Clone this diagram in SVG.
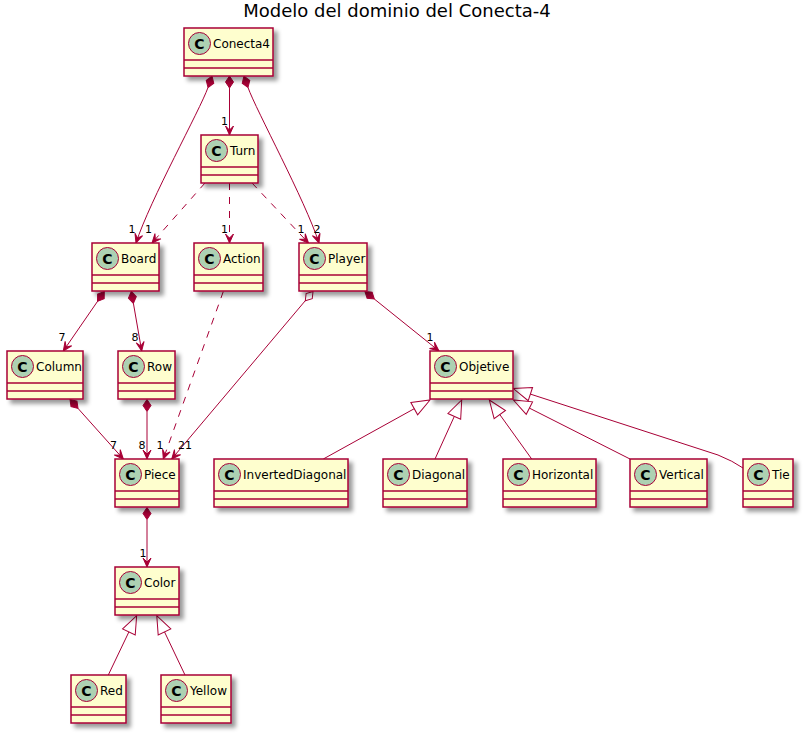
<svg xmlns="http://www.w3.org/2000/svg" width="806" height="736" viewBox="0 0 806 736">
<style>
.box{fill:#FEFECE;stroke:#A80036;stroke-width:1.5;filter:url(#sh)}
.sep{stroke:#A80036;stroke-width:1.5}
.ci{fill:#ADD1B2;stroke:#A80036;stroke-width:1}
.cl{font-family:"DejaVu Sans",sans-serif;font-size:14px;font-weight:bold;fill:#000;text-anchor:middle}
.nm{font-family:"DejaVu Sans",sans-serif;font-size:12px;fill:#000}
.lb{font-family:"DejaVu Sans",sans-serif;font-size:11px;fill:#000}
.e{fill:none;stroke:#A80036;stroke-width:1}
.d{stroke-dasharray:7,7}
.comp{marker-start:url(#dia);marker-end:url(#arr)}
.agg{marker-start:url(#odia);marker-end:url(#arr)}
.dep{marker-end:url(#arr)}
.gen{marker-end:url(#tri)}
</style>
<defs>
<filter id="sh" x="-20%" y="-20%" width="150%" height="150%">
<feGaussianBlur in="SourceAlpha" stdDeviation="2" result="b"/>
<feColorMatrix in="b" type="matrix" values="0 0 0 0 0  0 0 0 0 0  0 0 0 0 0  0 0 0 .4 0" result="b2"/>
<feOffset in="b2" dx="4" dy="4" result="b3"/>
<feBlend in="SourceGraphic" in2="b3" mode="normal"/>
</filter>
<marker id="arr" markerUnits="userSpaceOnUse" viewBox="-12 -6 14 12" refX="0" refY="0" markerWidth="14" markerHeight="12" orient="auto" overflow="visible">
<polygon points="0,0 -9,-4 -5,0 -9,4" fill="#A80036" stroke="#A80036" stroke-width="1"/>
</marker>
<marker id="dia" markerUnits="userSpaceOnUse" viewBox="-14 -6 16 12" refX="0" refY="0" markerWidth="16" markerHeight="12" orient="auto" overflow="visible">
<polygon points="0,0 -6,-4 -12,0 -6,4" fill="#A80036" stroke="#A80036" stroke-width="1"/>
</marker>
<marker id="odia" markerUnits="userSpaceOnUse" viewBox="-14 -6 16 12" refX="0" refY="0" markerWidth="16" markerHeight="12" orient="auto" overflow="visible">
<polygon points="0,0 -6,-4 -12,0 -6,4" fill="#FFFFFF" stroke="#A80036" stroke-width="1"/>
</marker>
<marker id="tri" markerUnits="userSpaceOnUse" viewBox="-2 -9 22 18" refX="0" refY="0" markerWidth="22" markerHeight="18" orient="auto" overflow="visible">
<polygon points="0,-7 18,0 0,7" fill="none" stroke="#A80036" stroke-width="1"/>
</marker>
</defs>
<rect width="806" height="736" fill="#FFFFFF"/>
<text x="397" y="17" font-family="DejaVu Sans, sans-serif" font-size="18" text-anchor="middle" fill="#000">Modelo del dominio del Conecta-4</text>

<g id="connectors">
<path class="e comp" d="M208,87.5 C200,110 150,200 136,243"/>
<path class="e comp" d="M229.5,88 L229.5,135"/>
<path class="e comp" d="M248,87.5 C256,110 305,200 319,243"/>
<path class="e d dep" d="M205,183 L152,243"/>
<path class="e d dep" d="M229.5,183 L229.5,243"/>
<path class="e d dep" d="M252,183 L308.5,243"/>
<path class="e comp" d="M97.5,301.4 L63.3,351"/>
<path class="e comp" d="M133.4,303.3 L141.7,351"/>
<path class="e comp" d="M78,408.4 L123.3,459"/>
<path class="e comp" d="M147,411.5 L147,459"/>
<path class="e d dep" d="M223.3,291.5 L163.3,459"/>
<path class="e agg" d="M305.3,300.7 L171.7,459"/>
<path class="e comp" d="M374.3,299 L439,351"/>
<path class="e comp" d="M147,519.5 L147,567"/>
<path class="e gen" d="M323.3,459 L414.25,408.7"/>
<path class="e gen" d="M435,459 L454.3,416.4"/>
<path class="e gen" d="M531.7,459 L499.8,414.6"/>
<path class="e gen" d="M630,459 L529.4,408.1"/>
<path class="e gen" d="M743,468 Q733,461 718,455 L530.4,394.1"/>
<path class="e gen" d="M108.3,675 L128.9,631.9"/>
<path class="e gen" d="M185,675 L164.5,631.9"/>
<text class="lb" x="128.5" y="233">1</text>
<text class="lb" x="145" y="233">1</text>
<text class="lb" x="221" y="125">1</text>
<text class="lb" x="221" y="233">1</text>
<text class="lb" x="297.5" y="233">1</text>
<text class="lb" x="313.5" y="233">2</text>
<text class="lb" x="58.5" y="341">7</text>
<text class="lb" x="131.5" y="341">8</text>
<text class="lb" x="110" y="449">7</text>
<text class="lb" x="138.5" y="449">8</text>
<text class="lb" x="156.5" y="449">1</text>
<text class="lb" x="178" y="449">21</text>
<text class="lb" x="426.5" y="341">1</text>
<text class="lb" x="139.5" y="557">1</text>
</g>

<g id="Conecta4"><rect class="box" x="184" y="28" width="89" height="48"/><line class="sep" x1="184" y1="60" x2="273" y2="60"/><line class="sep" x1="184" y1="68" x2="273" y2="68"/><circle class="ci" cx="199.5" cy="43.5" r="11"/><text class="cl" x="199.5" y="48.5">C</text><text class="nm" x="213" y="48">Conecta4</text></g>
<g id="Turn"><rect class="box" x="201" y="135" width="57" height="48"/><line class="sep" x1="201" y1="167" x2="258" y2="167"/><line class="sep" x1="201" y1="175" x2="258" y2="175"/><circle class="ci" cx="216.5" cy="150.5" r="11"/><text class="cl" x="216.5" y="155.5">C</text><text class="nm" x="230" y="155">Turn</text></g>
<g id="Board"><rect class="box" x="92" y="243" width="67" height="48"/><line class="sep" x1="92" y1="275" x2="159" y2="275"/><line class="sep" x1="92" y1="283" x2="159" y2="283"/><circle class="ci" cx="107.5" cy="258.5" r="11"/><text class="cl" x="107.5" y="263.5">C</text><text class="nm" x="121" y="263">Board</text></g>
<g id="Action"><rect class="box" x="194" y="243" width="69" height="48"/><line class="sep" x1="194" y1="275" x2="263" y2="275"/><line class="sep" x1="194" y1="283" x2="263" y2="283"/><circle class="ci" cx="209.5" cy="258.5" r="11"/><text class="cl" x="209.5" y="263.5">C</text><text class="nm" x="223" y="263">Action</text></g>
<g id="Player"><rect class="box" x="299" y="243" width="68" height="48"/><line class="sep" x1="299" y1="275" x2="367" y2="275"/><line class="sep" x1="299" y1="283" x2="367" y2="283"/><circle class="ci" cx="314.5" cy="258.5" r="11"/><text class="cl" x="314.5" y="263.5">C</text><text class="nm" x="328" y="263">Player</text></g>
<g id="Column"><rect class="box" x="7" y="351" width="76" height="48"/><line class="sep" x1="7" y1="383" x2="83" y2="383"/><line class="sep" x1="7" y1="391" x2="83" y2="391"/><circle class="ci" cx="22.5" cy="366.5" r="11"/><text class="cl" x="22.5" y="371.5">C</text><text class="nm" x="36" y="371">Column</text></g>
<g id="Row"><rect class="box" x="118" y="351" width="57" height="48"/><line class="sep" x1="118" y1="383" x2="175" y2="383"/><line class="sep" x1="118" y1="391" x2="175" y2="391"/><circle class="ci" cx="133.5" cy="366.5" r="11"/><text class="cl" x="133.5" y="371.5">C</text><text class="nm" x="147" y="371">Row</text></g>
<g id="Objetive"><rect class="box" x="430" y="351" width="83" height="48"/><line class="sep" x1="430" y1="383" x2="513" y2="383"/><line class="sep" x1="430" y1="391" x2="513" y2="391"/><circle class="ci" cx="445.5" cy="366.5" r="11"/><text class="cl" x="445.5" y="371.5">C</text><text class="nm" x="459" y="371">Objetive</text></g>
<g id="Piece"><rect class="box" x="115" y="459" width="64" height="48"/><line class="sep" x1="115" y1="491" x2="179" y2="491"/><line class="sep" x1="115" y1="499" x2="179" y2="499"/><circle class="ci" cx="130.5" cy="474.5" r="11"/><text class="cl" x="130.5" y="479.5">C</text><text class="nm" x="144" y="479">Piece</text></g>
<g id="InvertedDiagonal"><rect class="box" x="214" y="459" width="134" height="48"/><line class="sep" x1="214" y1="491" x2="348" y2="491"/><line class="sep" x1="214" y1="499" x2="348" y2="499"/><circle class="ci" cx="229.5" cy="474.5" r="11"/><text class="cl" x="229.5" y="479.5">C</text><text class="nm" x="243" y="479">InvertedDiagonal</text></g>
<g id="Diagonal"><rect class="box" x="383" y="459" width="84" height="48"/><line class="sep" x1="383" y1="491" x2="467" y2="491"/><line class="sep" x1="383" y1="499" x2="467" y2="499"/><circle class="ci" cx="398.5" cy="474.5" r="11"/><text class="cl" x="398.5" y="479.5">C</text><text class="nm" x="412" y="479">Diagonal</text></g>
<g id="Horizontal"><rect class="box" x="503" y="459" width="93" height="48"/><line class="sep" x1="503" y1="491" x2="596" y2="491"/><line class="sep" x1="503" y1="499" x2="596" y2="499"/><circle class="ci" cx="518.5" cy="474.5" r="11"/><text class="cl" x="518.5" y="479.5">C</text><text class="nm" x="532" y="479">Horizontal</text></g>
<g id="Vertical"><rect class="box" x="630" y="459" width="77" height="48"/><line class="sep" x1="630" y1="491" x2="707" y2="491"/><line class="sep" x1="630" y1="499" x2="707" y2="499"/><circle class="ci" cx="645.5" cy="474.5" r="11"/><text class="cl" x="645.5" y="479.5">C</text><text class="nm" x="659" y="479">Vertical</text></g>
<g id="Tie"><rect class="box" x="743" y="459" width="50" height="48"/><line class="sep" x1="743" y1="491" x2="793" y2="491"/><line class="sep" x1="743" y1="499" x2="793" y2="499"/><circle class="ci" cx="758.5" cy="474.5" r="11"/><text class="cl" x="758.5" y="479.5">C</text><text class="nm" x="772" y="479">Tie</text></g>
<g id="Color"><rect class="box" x="115" y="567" width="64" height="48"/><line class="sep" x1="115" y1="599" x2="179" y2="599"/><line class="sep" x1="115" y1="607" x2="179" y2="607"/><circle class="ci" cx="130.5" cy="582.5" r="11"/><text class="cl" x="130.5" y="587.5">C</text><text class="nm" x="144" y="587">Color</text></g>
<g id="Red"><rect class="box" x="71" y="675" width="55" height="48"/><line class="sep" x1="71" y1="707" x2="126" y2="707"/><line class="sep" x1="71" y1="715" x2="126" y2="715"/><circle class="ci" cx="86.5" cy="690.5" r="11"/><text class="cl" x="86.5" y="695.5">C</text><text class="nm" x="100" y="695">Red</text></g>
<g id="Yellow"><rect class="box" x="161" y="675" width="70" height="48"/><line class="sep" x1="161" y1="707" x2="231" y2="707"/><line class="sep" x1="161" y1="715" x2="231" y2="715"/><circle class="ci" cx="176.5" cy="690.5" r="11"/><text class="cl" x="176.5" y="695.5">C</text><text class="nm" x="190" y="695">Yellow</text></g>
</svg>
